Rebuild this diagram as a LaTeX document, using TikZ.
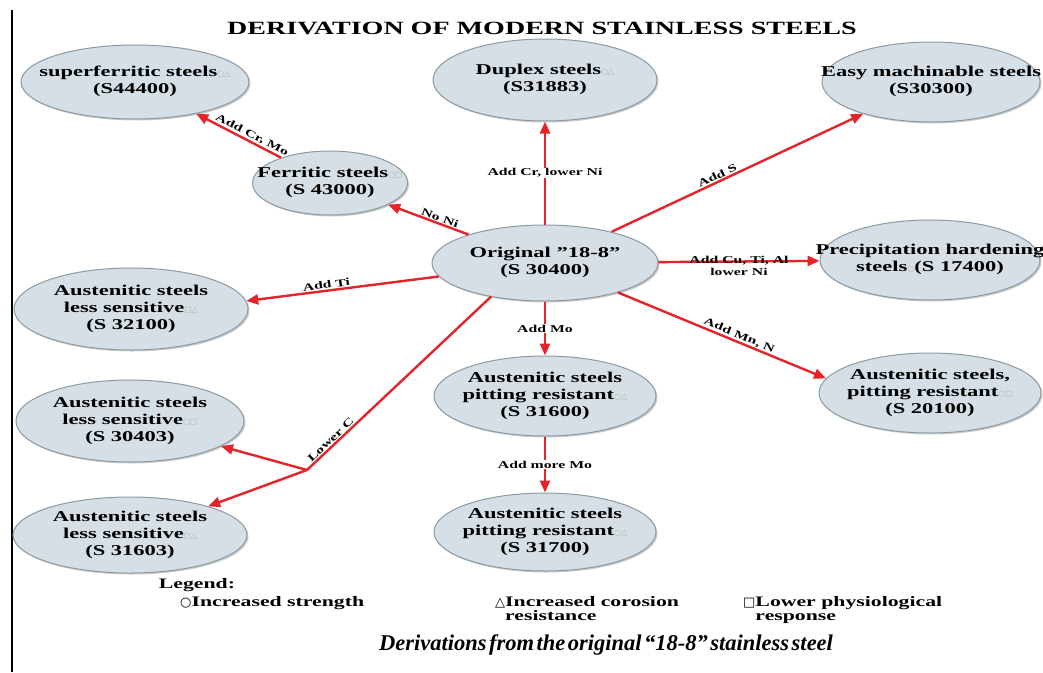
\documentclass[tikz,border=0pt]{standalone}
\usepackage{fontspec}
\setmainfont{Liberation Serif}[FakeStretch=1.5]
\newfontfamily\captionfont{Liberation Serif}[WordSpace=0.45]
\newfontfamily\symfont{DejaVu Sans}
\usepackage{xcolor}
\definecolor{steelFill}{HTML}{D5DFE5}
\definecolor{steelEdge}{HTML}{8C9AA3}
\definecolor{arrowRed}{HTML}{E3242B}
\usepackage{tikz}
\usetikzlibrary{shapes,positioning,arrows.meta,shadows}
% text inside the ellipses may run past the inscribed box
\newcommand{\steeltext}[1]{\makebox[0pt]{\begin{tabular}{@{}c@{}}#1\end{tabular}}}
\newcommand{\mk}[1]{{\symfont\fontsize{8}{8}\selectfont\color{gray!60}#1}}
\newcommand{\lsym}[1]{{\symfont\fontsize{13}{13}\selectfont#1}}
\newcommand{\sq}{\symbol{34}}
\tikzset{%
  steelNode/.style={%
    ellipse,
    draw=steelEdge,
    fill=steelFill,
    line width=1pt,
    inner sep=0pt,
    font=\bfseries\fontsize{15}{17}\selectfont,
    drop shadow={shadow xshift=1.5pt,shadow yshift=-1.5pt,fill=black!40,opacity=0.5}
  },
  derivArrow/.style={%
    -{Triangle[length=12pt,width=10pt]},
    line width=2.4pt,
    draw=arrowRed
  },
  derivLine/.style={%
    line width=2.4pt,
    draw=arrowRed,
    line cap=round
  },
  edgeLabel/.style={%
    font=\bfseries\fontsize{10.5}{12}\selectfont,
    inner sep=1pt
  },
  legendText/.style={%
    font=\bfseries\fontsize{14.5}{14}\selectfont,
    inner sep=0pt
  },
  titleText/.style={%
    font=\bfseries\fontsize{18.7}{21}\selectfont
  },
  captionText/.style={%
    font=\captionfont\bfseries\itshape\fontsize{22.5}{24}\selectfont
  }
}

\begin{document}
\begin{tikzpicture}[x=1pt,y=-1pt]
  \path[use as bounding box, fill=white] (0,0) rectangle (1043,672);
  \draw[line width=1.8pt] (12,10) -- (12,672);

  \node[titleText] (title) at (542,28) {DERIVATION OF MODERN STAINLESS STEELS};

  % centre and column
  \node[steelNode, minimum width=226pt, minimum height=76pt] (orig) at (545,263) {\steeltext{Original \sq18-8\sq\\(S 30400)}};
  \node[steelNode, minimum width=224pt, minimum height=82pt, above=103pt of orig] (duplex) {\steeltext{Duplex steels\mk{○△}\\(S31883)}};
  \node[steelNode, minimum width=222pt, minimum height=80pt, below=54pt of orig] (mo) {\steeltext{Austenitic steels\\pitting resistant\mk{○△}\\(S 31600)}};
  \node[steelNode, minimum width=222pt, minimum height=78pt, below=56pt of mo] (moremo) {\steeltext{Austenitic steels\\pitting resistant\mk{○△}\\(S 31700)}};

  % right side
  \node[steelNode, minimum width=218pt, minimum height=80pt] (easy) at (931,82) {\steeltext{Easy machinable steels\\(S30300)}};
  \node[steelNode, minimum width=220pt, minimum height=80pt] (precip) at (930,260) {\steeltext{Precipitation hardening\\steels\mk{○}(S 17400)}};
  \node[steelNode, minimum width=222pt, minimum height=80pt] (mn) at (930,393) {\steeltext{Austenitic steels,\\pitting resistant\mk{○□}\\(S 20100)}};

  % left side
  \node[steelNode, minimum width=228pt, minimum height=74pt] (superf) at (135,82) {\steeltext{superferritic steels\mk{○△}\\(S44400)}};
  \node[steelNode, minimum width=155pt, minimum height=64pt] (ferr) at (330,183) {\steeltext{Ferritic steels\mk{○□}\\(S 43000)}};
  \node[steelNode, minimum width=234pt, minimum height=82pt] (ti) at (131,309) {\steeltext{Austenitic steels\\less sensitive\mk{□△}\\(S 32100)}};
  \node[steelNode, minimum width=228pt, minimum height=82pt] (c304) at (130,421) {\steeltext{Austenitic steels\\less sensitive\mk{○□}\\(S 30403)}};
  \node[steelNode, minimum width=234pt, minimum height=76pt] (c316) at (130,535) {\steeltext{Austenitic steels\\less sensitive\mk{○△}\\(S 31603)}};
  \coordinate (lowc) at (307,470);

  \draw[derivArrow] (orig) -- node[edgeLabel, fill=white] {Add Cr, lower Ni} (duplex);
  \draw[derivArrow] (orig) -- node[edgeLabel, sloped, above, pos=.43] {Add S} (easy);
  \draw[derivArrow] (orig) -- node[edgeLabel, sloped, above, pos=.38] {No Ni} (ferr);
  \draw[derivArrow] (ferr) -- node[edgeLabel, sloped, above, pos=.38] {Add Cr, Mo} (superf);
  \draw[derivArrow] (orig) -- node[edgeLabel, align=center, yshift=-4pt] {Add Cu, Ti, Al\\lower Ni} (precip);
  \draw[derivArrow] (orig.-22) -- node[edgeLabel, sloped, above, pos=.57] {Add Mn, N} (mn.172);
  \draw[derivArrow] (orig) -- node[edgeLabel, sloped, above, pos=.58] {Add Ti} (ti.4);
  \draw[derivArrow] (orig) -- node[edgeLabel, fill=white] {Add Mo} (mo);
  \draw[derivArrow] (mo) -- node[edgeLabel, fill=white] {Add more Mo} (moremo);
  \draw[derivLine] (orig.212) -- node[edgeLabel, sloped, above, pos=.85] {Lower C} (lowc);
  \draw[derivArrow] (lowc) -- (c304);
  \draw[derivArrow] (lowc) -- (c316);

  % legend and caption
  \node[legendText] (legend) at (197,585) {Legend:};
  \node[legendText, anchor=west] (strength) at (180,603) {\lsym{○}Increased strength};
  \node[legendText, anchor=north west, align=left] (corrosion) at (495,596) {\lsym{△}Increased corosion\\\phantom{\lsym{△}}resistance};
  \node[legendText, anchor=north west, align=left] (physio) at (743,596) {\lsym{□}Lower physiological\\\phantom{\lsym{□}}response};
  \node[captionText] (caption) at (606,645) {Derivations from the original “18-8” stainless steel};
\end{tikzpicture}
\end{document}
